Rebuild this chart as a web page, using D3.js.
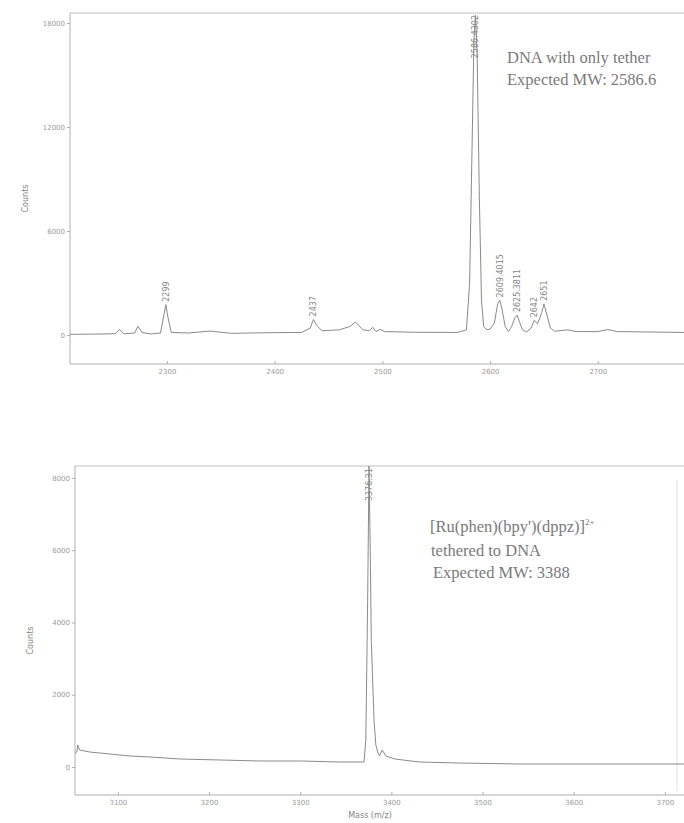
<!DOCTYPE html>
<html>
<head>
<meta charset="utf-8">
<script src="https://cdn.jsdelivr.net/npm/d3@7"></script>
<style>
  body { margin: 0; background: #fff; }
  svg { display: block; }
  .tick text { fill: #9a9a9a; font-family: "DejaVu Sans", sans-serif; font-size: 7px; }
  .tick line, .domain { stroke: #b0b0b0; }
  .note { fill: #7a7a7a; font-family: "Liberation Serif", serif; font-size: 16.5px; }
  .plab { fill: #858585; font-family: "DejaVu Sans", sans-serif; font-size: 8px; }
</style>
</head>
<body>
<script>
// top spectrum: DNA with only tether
const topMz = [2210, 2240, 2252, 2256, 2260, 2270, 2273, 2277, 2285, 2294, 2297, 2299, 2301, 2304, 2320, 2340, 2360,
  2400, 2425, 2433, 2436, 2439, 2444, 2460, 2470, 2475, 2482, 2488, 2491, 2494, 2498, 2502, 2530, 2570, 2578,
  2581, 2583, 2585, 2586.4, 2588, 2590, 2592, 2594, 2597, 2600, 2604, 2607, 2609, 2611, 2614, 2617, 2620, 2623,
  2625, 2627, 2630, 2634, 2638, 2641, 2644, 2648, 2650, 2653, 2656, 2660, 2672, 2680, 2700, 2709, 2718, 2780];
const topCounts = [40, 60, 80, 330, 70, 120, 500, 150, 60, 120, 1100, 1750, 1000, 150, 120, 230, 100,
  140, 150, 400, 900, 550, 250, 300, 500, 750, 300, 250, 450, 200, 330, 200, 160, 150, 300,
  3000, 10000, 17000, 18450, 16000, 8000, 2000, 500, 300, 350, 700, 1800, 2000, 1500, 500, 200, 500, 1000,
  1150, 800, 300, 180, 400, 850, 650, 1300, 1800, 1100, 400, 220, 300, 200, 200, 320, 200, 150];
const topPeakMz = [2299, 2436, 2586.4, 2609, 2625, 2641, 2650];
const topPeakCounts = [1750, 900, 18450, 2000, 1150, 850, 1800];
const topPeakLabels = ["2299", "2437", "2586.4302", "2609.4015 ", "2625.3811", "2642", "2651"];
const topXTicks = [2300, 2400, 2500, 2600, 2700];
const topYTicks = [0, 6000, 12000, 18000];

// bottom spectrum: Ru complex tethered to DNA
const botMz = [3053, 3055, 3056, 3058, 3069, 3091, 3113, 3135, 3168, 3212, 3256, 3300, 3344, 3370, 3372, 3374,
  3375.5, 3377, 3378, 3381, 3383, 3385, 3387, 3390, 3394, 3404, 3431, 3475, 3541, 3629, 3721];
const botCounts = [380, 415, 610, 470, 415, 360, 305, 277, 221, 194, 166, 166, 138, 138, 750, 4600,
  8330, 5700, 3500, 1300, 610, 415, 305, 470, 305, 221, 138, 110, 83, 83, 83];
const botPeakMz = [3375.5];
const botPeakCounts = [8330];
const botPeakLabels = ["3376.31"];
const botXTicks = [3100, 3200, 3300, 3400, 3500, 3600, 3700];
const botYTicks = [0, 2000, 4000, 6000, 8000];

const width = 684, height = 823;
const svg = d3.select("body").append("svg").attr("width", width).attr("height", height);

function panel(o) {
  const x = d3.scaleLinear().domain(o.xDomain).range([o.left, width]);
  const y = d3.scaleLinear().domain(o.yDomain).range([o.bottom, o.top]);
  const g = svg.append("g");

  // frame top line
  g.append("line").attr("x1", o.left).attr("x2", width).attr("y1", o.top).attr("y2", o.top)
    .attr("stroke", "#c0c0c0");
  if (o.rightEdge) {
    g.append("line").attr("x1", o.rightEdge).attr("x2", o.rightEdge).attr("y1", o.top + 14).attr("y2", o.bottom - 4)
      .attr("stroke", "#e0e0e0");
  }

  g.append("g").attr("transform", `translate(0,${o.bottom})`)
    .call(d3.axisBottom(x).tickValues(o.xTicks).tickSize(-3).tickPadding(5).tickFormat(d3.format("d")))
    .call(a => a.select(".domain").attr("d", `M${o.left},0H${width}`));

  g.append("g").attr("transform", `translate(${o.left},0)`)
    .call(d3.axisLeft(y).tickValues(o.yTicks).tickSize(3).tickPadding(2).tickFormat(d3.format("d")))
    .call(a => a.select(".domain").attr("d", `M0,${o.top}V${o.bottom}`));

  g.append("text").attr("class", "plab")
    .attr("transform", `translate(${o.left - 42},${(o.top + o.bottom) / 2 + 10}) rotate(-90)`)
    .attr("text-anchor", "middle").text("Counts");

  const pts = o.mz.map((m, i) => [m, o.counts[i]]);
  const line = d3.line().x(d => x(d[0])).y(d => y(d[1]));
  g.append("path").datum(pts).attr("fill", "none").attr("stroke", "#8a8a8a")
    .attr("stroke-width", 1).attr("d", line);

  // peak labels, vertical, above tips
  o.peakMz.forEach((m, i) => {
    const t = g.append("text").attr("class", "plab").text(o.peakLabels[i]);
    const len = t.node().getComputedTextLength();
    const yb = Math.max(y(o.peakCounts[i]) - 3, o.top + 2 + len);
    t.attr("transform", `translate(${x(m) + 3},${yb}) rotate(-90)`);
  });

  o.notes.forEach((n, i) => {
    const t = g.append("text").attr("class", "note").attr("x", o.noteX[i]).attr("y", o.noteY[i]);
    n.forEach(part => {
      const s = t.append("tspan").text(part.t);
      if (part.sup) s.attr("font-size", "9px").attr("dy", "-7");
    });
  });
  return { x, y };
}

panel({
  left: 70, top: 13, bottom: 364,
  xDomain: [2210, 2780], yDomain: [-1670, 18580],
  xTicks: topXTicks, yTicks: topYTicks,
  mz: topMz, counts: topCounts,
  peakMz: topPeakMz, peakCounts: topPeakCounts, peakLabels: topPeakLabels,
  notes: [[{ t: "DNA with only tether" }], [{ t: "Expected MW: 2586.6" }]],
  noteX: [507, 507], noteY: [63, 85]
});

panel({
  left: 75, top: 466, bottom: 795, rightEdge: 677,
  xDomain: [3053, 3721], yDomain: [-775, 8330],
  xTicks: botXTicks, yTicks: botYTicks,
  mz: botMz, counts: botCounts,
  peakMz: botPeakMz, peakCounts: botPeakCounts, peakLabels: botPeakLabels,
  notes: [[{ t: "[Ru(phen)(bpy')(dppz)]" }, { t: "2+", sup: true }], [{ t: "tethered to DNA" }], [{ t: " Expected MW: 3388" }]],
  noteX: [430, 431, 433], noteY: [532, 556, 578]
});

svg.append("text").attr("class", "plab").attr("x", 370).attr("y", 818)
  .attr("text-anchor", "middle").attr("font-size", "7px").text("Mass (m/z)");
</script>
</body>
</html>
